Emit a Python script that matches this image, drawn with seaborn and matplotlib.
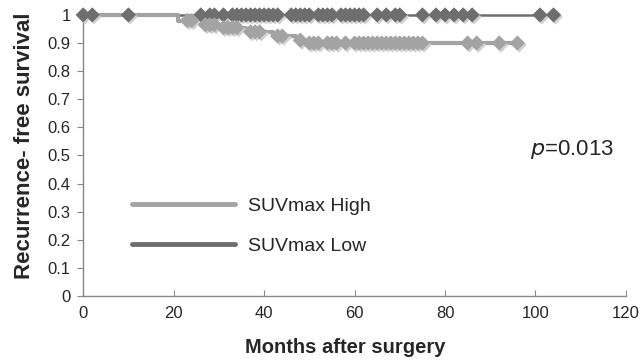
import numpy as np
import pandas as pd
import matplotlib
matplotlib.use("Agg")
import matplotlib.pyplot as plt
import seaborn as sns

# step points (time, survival) of the two curves
high_t = [0, 21, 26, 30, 36, 42, 47, 49, 96]
high_s = [1.0, 0.98, 0.965, 0.955, 0.94, 0.925, 0.91, 0.90, 0.90]
low_t = [0, 104]
low_s = [1.0, 1.0]

# censored observations (months)
high_cens = [23, 24, 27, 28, 29, 31, 32, 33, 34, 37, 38, 39, 43, 44, 48, 50, 51,
             52, 54, 55, 56, 58, 60, 61, 62, 63, 64, 65, 66, 67, 68, 69, 70, 71,
             72, 73, 74, 75, 85, 87, 92, 96]
low_cens = [0, 2, 10, 26, 28, 29, 31, 33, 34, 35, 36, 37, 38, 39, 40, 41, 42, 43,
            46, 47, 48, 49, 50, 52, 53, 54, 55, 57, 58, 59, 60, 61, 62, 65, 67,
            69, 70, 75, 78, 80, 82, 84, 86, 101, 104]

c_high = "#a3a3a3"
c_low = "#6e6e6e"


def surv_at(ts, ss, t):
    i = np.searchsorted(ts, t, side="right") - 1
    return ss[i]


sns.set_style("white")
plt.rcParams["font.family"] = ["Liberation Sans", "DejaVu Sans"]

fig = plt.figure(figsize=(6.4, 3.64), dpi=100)
ax = fig.add_axes([0.13, 0.187, 0.848, 0.772])

df_high = pd.DataFrame({"t": high_t, "s": high_s})
df_low = pd.DataFrame({"t": low_t, "s": low_s})
cens_high = pd.DataFrame({"t": high_cens,
                          "s": [surv_at(high_t, high_s, t) for t in high_cens]})
cens_low = pd.DataFrame({"t": low_cens,
                         "s": [surv_at(low_t, low_s, t) for t in low_cens]})

# lines
sns.lineplot(data=df_low, x="t", y="s", drawstyle="steps-post", color=c_low,
             lw=1.8, ax=ax, clip_on=False, zorder=2)
sns.lineplot(data=df_high, x="t", y="s", drawstyle="steps-post", color=c_high,
             lw=3.0, ax=ax, clip_on=False, zorder=3)

# censor markers with a soft shadow
for d, c, z in [(cens_low, c_low, 4), (cens_high, c_high, 5)]:
    ax.scatter(d["t"] + 0.4, d["s"] - 0.007, marker="D", s=60, color="#d0d0d0",
               edgecolor="none", clip_on=False, zorder=z - 0.5)
    sns.scatterplot(data=d, x="t", y="s", marker="D", s=60, color=c,
                    edgecolor="none", ax=ax, clip_on=False, zorder=z)

# legend
ax.plot([], [], color=c_high, lw=3.5, label="SUVmax High")
ax.plot([], [], color=c_low, lw=3.5, label="SUVmax Low")
ax.legend(loc="lower left", bbox_to_anchor=(0.057, 0.085), frameon=False,
          handlelength=5.3, handletextpad=0.7, labelspacing=1.15, fontsize=14)

ax.text(0.9, 0.52, r"$\it{p}$=0.013", transform=ax.transAxes, fontsize=16,
        ha="center", va="center")

ax.set_xlim(0, 120)
ax.set_ylim(0, 1)
ax.set_xticks(range(0, 121, 20))
ax.set_yticks(np.round(np.arange(0, 1.01, 0.1), 1))
ax.set_yticklabels(["0", "0.1", "0.2", "0.3", "0.4", "0.5", "0.6", "0.7",
                    "0.8", "0.9", "1"])
ax.tick_params(axis="x", direction="in", length=4, color="#888888",
               labelsize=12, pad=7, bottom=True)
ax.tick_params(axis="y", direction="out", length=4, color="#888888",
               labelsize=12, pad=5, left=True)
for sp in ["top", "right"]:
    ax.spines[sp].set_visible(False)
for sp in ["left", "bottom"]:
    ax.spines[sp].set_color("#888888")
    ax.spines[sp].set_linewidth(1.0)

ax.set_xlabel("Months after surgery", fontsize=14.5, fontweight="bold")
ax.set_ylabel("Recurrence- free survival", fontsize=16, fontweight="bold")
ax.xaxis.set_label_coords(0.482, -0.148)
ax.yaxis.set_label_coords(-0.088, 0.535)

fig.savefig("out.png", dpi=100)
